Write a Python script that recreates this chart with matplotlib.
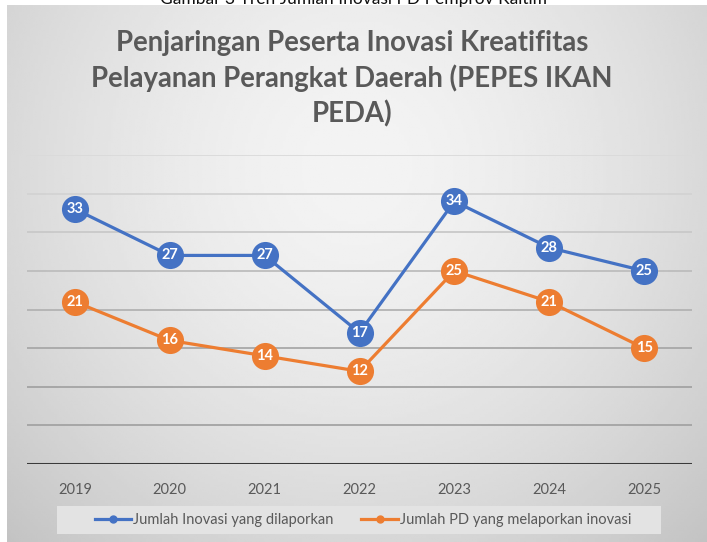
import numpy as np
import matplotlib
matplotlib.use("Agg")
import matplotlib.pyplot as plt
from matplotlib.lines import Line2D
from matplotlib.patches import Rectangle

# --- DATA ---
years = ["2019", "2020", "2021", "2022", "2023", "2024", "2025"]
inovasi = [33, 27, 27, 17, 34, 28, 25]
pd_lapor = [21, 16, 14, 12, 25, 21, 15]
series_names = ["Jumlah Inovasi yang dilaporkan", "Jumlah PD yang melaporkan inovasi"]
title = "Penjaringan Peserta Inovasi Kreatifitas\nPelayanan Perangkat Daerah (PEPES IKAN\nPEDA)"
caption = "Gambar 3 Tren Jumlah Inovasi PD Pemprov Kaltim"

BLUE = "#4472C4"
ORANGE = "#ED7D31"
GREY_TXT = "#595959"
FONT = "Lato"

W, H = 707, 542
fig = plt.figure(figsize=(W / 100, H / 100), dpi=100)
fig.patch.set_facecolor("white")

def fx(px):
    return px / W

def fy(py):
    return 1 - py / H

# background panel with a soft radial gradient
bg = fig.add_axes([fx(7), 0, fx(W - 7), 1 - 5 / H])
yy, xx = np.mgrid[0:1:200j, 0:1:260j]
d = np.sqrt(((xx - 0.5) / 0.75) ** 2 + ((yy - 0.3) / 1.0) ** 2)
shade = 0.955 - 0.2 * d ** 1.6
bg.imshow(shade, cmap="gray", vmin=0, vmax=1, aspect="auto", extent=(0, 1, 1, 0))
bg.set_axis_off()

# caption cut off at the very top (as in the source screenshot)
fig.text(fx(354), fy(4), caption, ha="center", va="baseline", fontsize=12.5,
         family=FONT, color="#111111")

# title
fig.text(fx(352), fy(79), title, ha="center", va="center", fontsize=19.8,
         family=FONT, fontweight="bold", color=GREY_TXT, linespacing=1.38)

# main plot area
ax = fig.add_axes([fx(27.5), fy(464), fx(664), (464 - 155) / H])
ax.patch.set_alpha(0)
x = np.arange(len(years))
ax.set_xlim(-0.5, len(years) - 0.5)
ax.set_ylim(0, 40)

grid_colors = ["#a3a3a3", "#a3a3a3", "#a8a8a8", "#b3b3b3", "#bdbdbd", "#c9c9c9", "#d3d3d3", "#dadada"]
for lvl, c in zip(range(5, 45, 5), grid_colors):
    ax.axhline(lvl, color=c, lw=1.3, zorder=1)
ax.axhline(0, color="#3a3a3a", lw=2.2, zorder=2)

for vals, col in [(inovasi, BLUE), (pd_lapor, ORANGE)]:
    ax.plot(x, vals, color=col, lw=2.3, marker="o", markersize=19.5,
            markeredgewidth=0, zorder=3)
    for xi, v in zip(x, vals):
        ax.text(xi, v, str(v), ha="center", va="center", color="white",
                fontsize=10.5, fontweight="bold", family=FONT, zorder=4)

for s in ax.spines.values():
    s.set_visible(False)
ax.set_yticks([])
ax.set_xticks(x)
ax.set_xticklabels(years, family=FONT, fontsize=10.5, color=GREY_TXT)
ax.tick_params(axis="x", length=0, pad=14)

# legend box
fig.patches.append(Rectangle((fx(57), fy(534)), fx(604), (534 - 506) / H,
                             transform=fig.transFigure, facecolor="#e3e3e3",
                             edgecolor="none", zorder=1))
handles = [Line2D([], [], color=BLUE, lw=2.3, marker="o", markersize=5),
           Line2D([], [], color=ORANGE, lw=2.3, marker="o", markersize=5)]
leg = fig.legend(handles, series_names, loc="center", ncol=2,
                 bbox_to_anchor=(fx(363), fy(520)), frameon=False,
                 prop={"family": FONT, "size": 10.5}, handlelength=2.5,
                 handletextpad=0.15, columnspacing=1.9, borderpad=0.3,
                 borderaxespad=0)
for t in leg.get_texts():
    t.set_color(GREY_TXT)

fig.savefig("out.png", dpi=100)
